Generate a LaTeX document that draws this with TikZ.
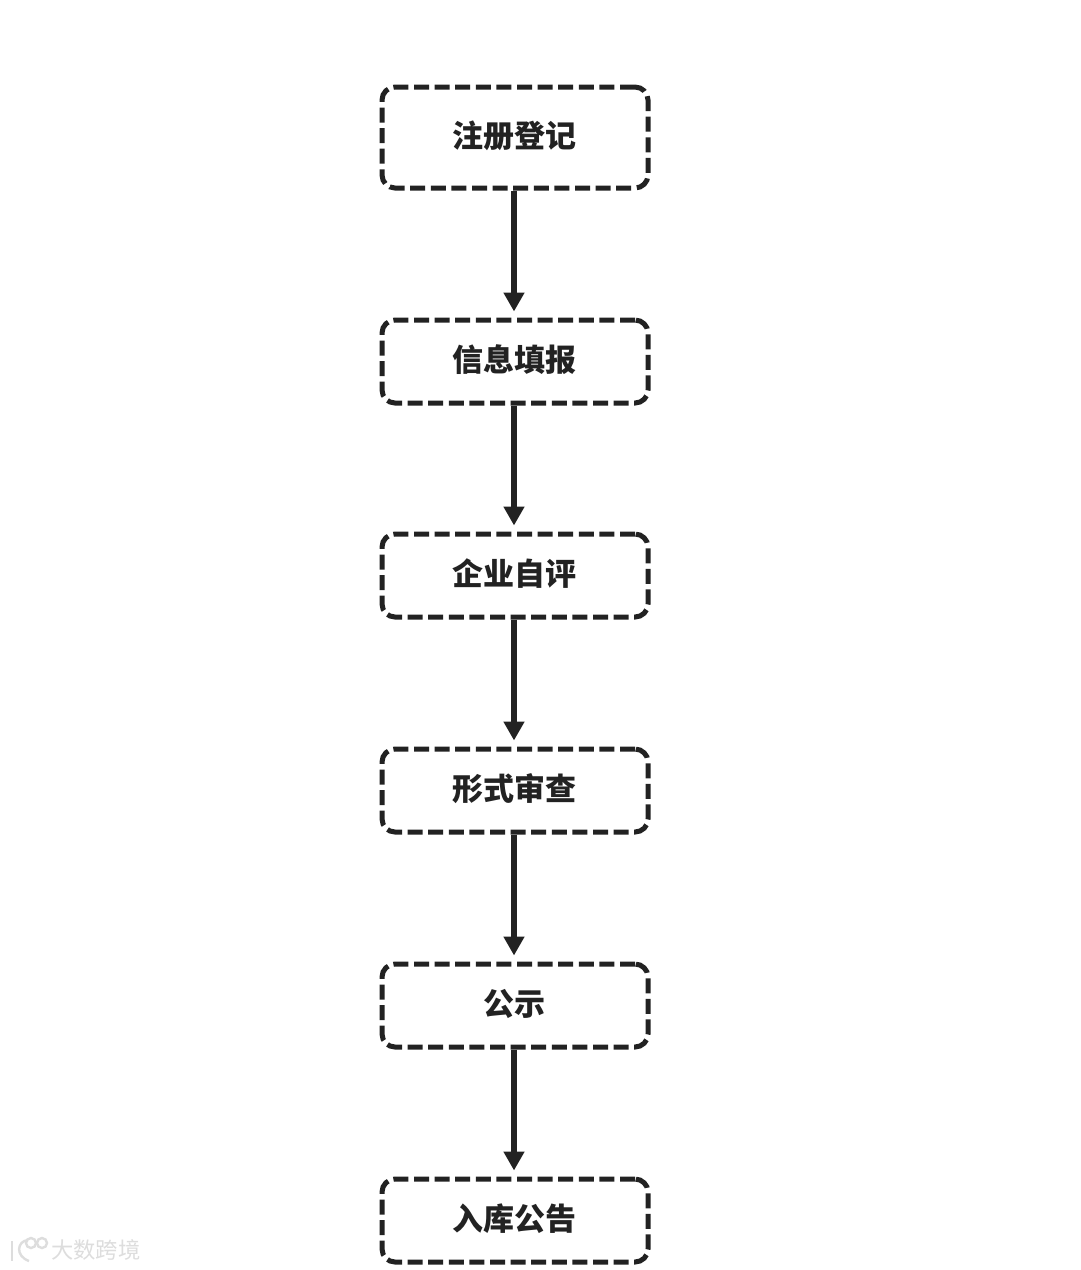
\documentclass[tikz,border=0pt]{standalone}
\usepackage{fontspec}
\setmainfont{Liberation Sans}
\newfontfamily\cjk{Noto Sans CJK SC}
\usetikzlibrary{arrows.meta}
\definecolor{ink}{HTML}{222222}
\definecolor{wm}{HTML}{DDDDDD}
\tikzset{
  x=1pt,y=-1pt,
  stage/.style={draw=ink,line width=5pt,dash pattern=on 15pt off 5.6pt,rounded corners=13pt,
    minimum width=266pt,inner sep=0pt,anchor=center},
  stagetext/.style={text=ink,font=\cjk\bfseries\fontsize{31}{31}\selectfont,inner sep=0pt},
  flow/.style={draw=ink,line width=5.2pt,-{Triangle[width=20pt,length=19pt]},shorten >=6pt},
  mark text/.style={text=wm,font=\cjk\fontsize{22.3}{22.3}\selectfont,inner sep=0pt},
  logo/.style={draw=wm,line width=2.4pt}
}
\begin{document}
\begin{tikzpicture}
\useasboundingbox[fill=white] (0,0) rectangle (1080,1270);
\node[stage,minimum height=101pt] (a) at (515,137.5) {};
\node[stage,minimum height=83pt] (b) at (515,361.5) {};
\node[stage,minimum height=83pt] (c) at (515,575.5) {};
\node[stage,minimum height=83pt] (d) at (515,790.5) {};
\node[stage,minimum height=83pt] (e) at (515,1005.5) {};
\node[stage,minimum height=83pt] (f) at (515,1220.5) {};
\node[stagetext] (ta) at (514,135.5) {注册登记};
\node[stagetext] (tb) at (514,359.5) {信息填报};
\node[stagetext] (tc) at (514,574) {企业自评};
\node[stagetext] (td) at (514,789) {形式审查};
\node[stagetext] (te) at (514,1004) {公示};
\node[stagetext] (tf) at (514,1219) {入库公告};
\draw[flow] ([xshift=-1pt]a.south) -- ([xshift=-1pt]b.north);
\draw[flow] ([xshift=-1pt]b.south) -- ([xshift=-1pt]c.north);
\draw[flow] ([xshift=-1pt]c.south) -- ([xshift=-1pt]d.north);
\draw[flow] ([xshift=-1pt]d.south) -- ([xshift=-1pt]e.north);
\draw[flow] ([xshift=-1pt]e.south) -- ([xshift=-1pt]f.north);
% watermark
\draw[logo] (12,1241) -- (12,1261);
\draw[logo] (28,1240) .. controls (17,1241) and (15,1256) .. (29,1261);
\draw[logo] (31,1243) circle (5);
\draw[logo] (42,1243) circle (5);
\node[mark text,anchor=west] (w) at (51,1250) {大数跨境};
\end{tikzpicture}
\end{document}
